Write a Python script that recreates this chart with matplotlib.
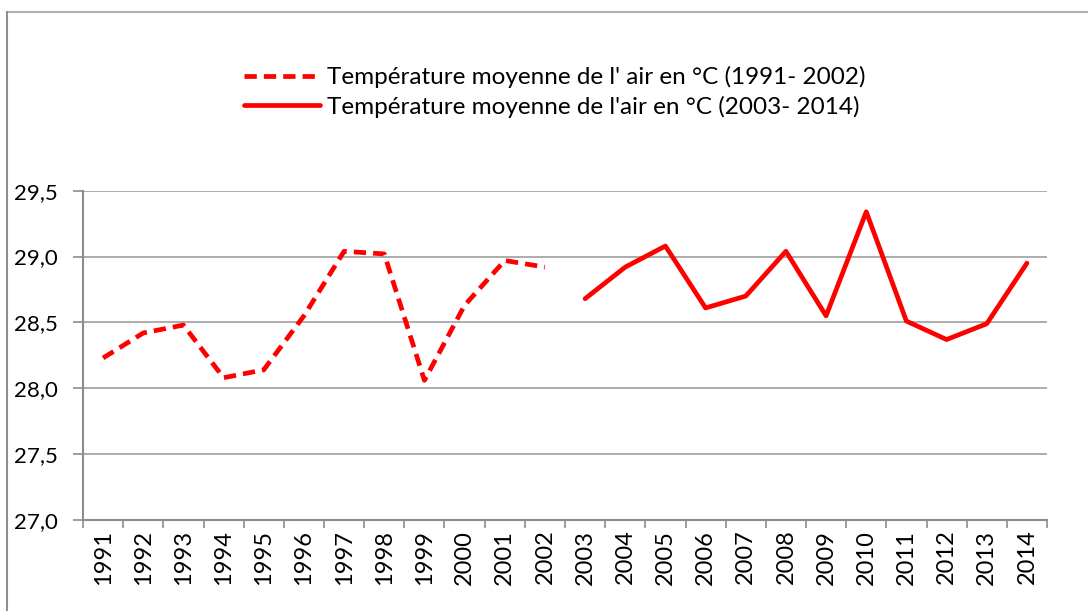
import matplotlib
matplotlib.use("Agg")
import matplotlib.pyplot as plt
from matplotlib.ticker import FuncFormatter, FixedLocator, NullFormatter

plt.rcParams['font.family'] = ['Lato', 'DejaVu Sans']

years = [str(y) for y in range(1991, 2015)]
temp_1991_2002 = [28.23, 28.42, 28.48, 28.08, 28.14, 28.55, 29.04, 29.02, 28.06, 28.63, 28.97, 28.92]
temp_2003_2014 = [28.68, 28.92, 29.08, 28.61, 28.70, 29.04, 28.55, 29.34, 28.51, 28.37, 28.49, 28.95]
label_1 = "Température moyenne de l' air en °C (1991- 2002)"
label_2 = "Température moyenne de l'air en °C (2003- 2014)"

fig = plt.figure(figsize=(10.88, 6.11), dpi=100)
ax = fig.add_axes([83/1088, 1-520/611, (1047-83)/1088, (520-190.7)/611])

x1 = list(range(0, len(temp_1991_2002)))
x2 = list(range(len(temp_1991_2002), len(years)))

red = '#ff0000'
l1, = ax.plot(x1, temp_1991_2002, color=red, lw=3.4, linestyle=(0, (2.6, 1.5)),
              solid_joinstyle='round', label=label_1)
l2, = ax.plot(x2, temp_2003_2014, color=red, lw=3.4, solid_joinstyle='round',
              solid_capstyle='round', label=label_2)

ax.set_xlim(-0.5, len(years) - 0.5)
ax.set_ylim(27.0, 29.5)
ax.set_yticks([27.0, 27.5, 28.0, 28.5, 29.0, 29.5])
ax.yaxis.set_major_formatter(FuncFormatter(lambda v, p: f"{v:.1f}".replace('.', ',')))
ax.grid(axis='y', color='#a6a6a6', lw=1.3)
ax.set_axisbelow(True)

ax.set_xticks(range(len(years)))
ax.set_xticklabels(years, rotation=90, fontsize=17)
ax.tick_params(axis='x', which='major', length=0, pad=7)
ax.xaxis.set_minor_locator(FixedLocator([i - 0.5 for i in range(len(years) + 1)]))
ax.xaxis.set_minor_formatter(NullFormatter())
ax.tick_params(axis='x', which='minor', length=6, width=1.2, color='#8c8c8c', direction='out')
ax.tick_params(axis='y', which='major', length=7, width=1.2, color='#8c8c8c', labelsize=16, pad=11)

for s in ['top', 'right']:
    ax.spines[s].set_visible(False)
for s in ['left', 'bottom']:
    ax.spines[s].set_color('#8c8c8c')
    ax.spines[s].set_linewidth(1.5)

leg = fig.legend(handles=[l1, l2], loc='center', bbox_to_anchor=(555/1088, 1-92/611),
                 frameon=False, fontsize=17.5, handlelength=3.1, handletextpad=0.3,
                 labelspacing=0.32, borderpad=0)

# chart-area border (top and left edges)
fig.add_artist(plt.Line2D([7/1088, 1], [1-12/611, 1-12/611], transform=fig.transFigure,
                          color='#b0b0b0', lw=1.5))
fig.add_artist(plt.Line2D([7/1088, 7/1088], [0, 1-12/611], transform=fig.transFigure,
                          color='#909090', lw=1.5))

fig.savefig('out.png', dpi=100)
